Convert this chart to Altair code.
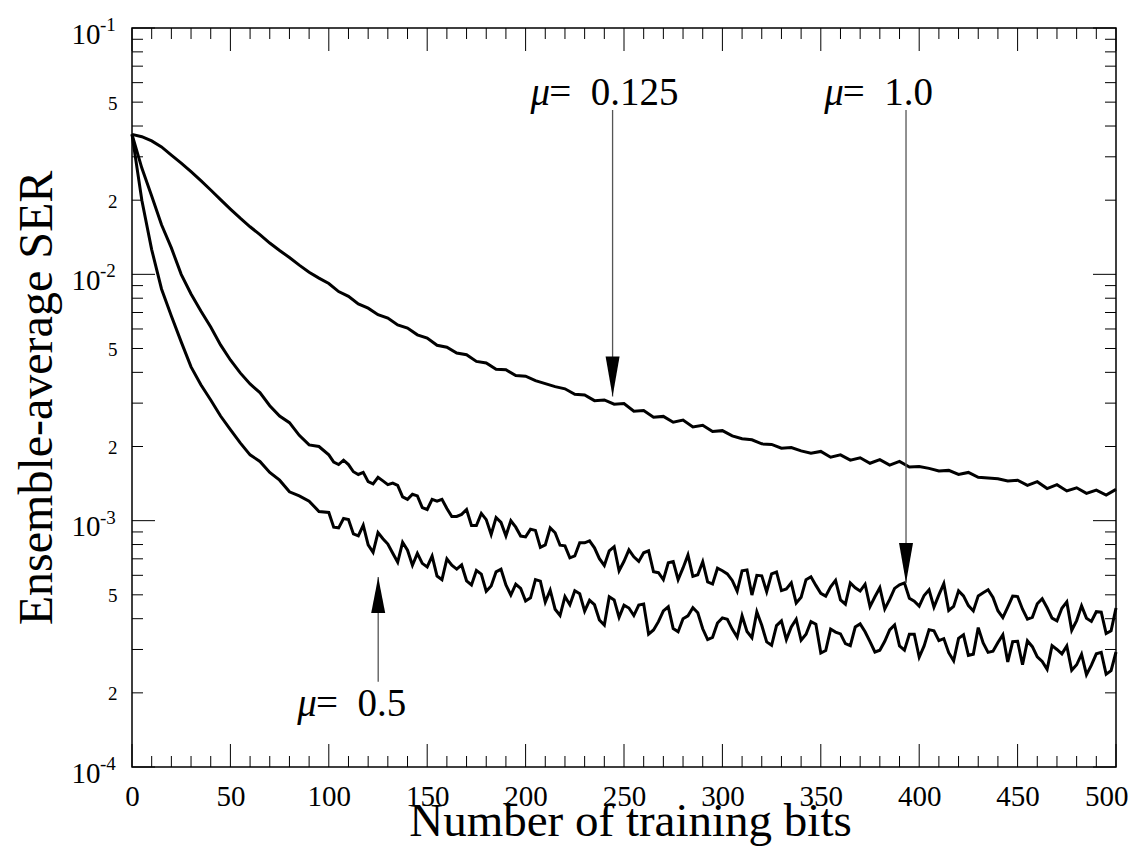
import altair as alt
import pandas as pd

# ---------------- data ----------------
bits = list(range(0, 501, 5))             # 0, 5, ..., 500
bits_half = [102.5 + 5 * i for i in range(80)]  # 102.5, 107.5, ..., 497.5

ser_mu_0125 = [
    0.0370, 0.0362, 0.0348, 0.0329, 0.0305, 0.0283, 0.0261, 0.0240, 0.0220, 0.0201,
    0.0184, 0.0169, 0.0156, 0.0145, 0.0134, 0.0125, 0.0117, 0.0109, 0.0102, 0.00965,
    0.00918, 0.00851, 0.00814, 0.00758, 0.00729, 0.00686, 0.00664, 0.00623, 0.00605, 0.00568,
    0.00551, 0.00515, 0.00506, 0.00479, 0.00472, 0.00443, 0.00437, 0.00412, 0.00410, 0.00388,
    0.00386, 0.00370, 0.00360, 0.00350, 0.00343, 0.00326, 0.00324, 0.00307, 0.00309, 0.00297,
    0.00299, 0.00278, 0.00280, 0.00263, 0.00265, 0.00251, 0.00256, 0.00240, 0.00244, 0.00230,
    0.00232, 0.00221, 0.00215, 0.00213, 0.00205, 0.00204, 0.00197, 0.00198, 0.00192, 0.00188,
    0.00191, 0.00181, 0.00185, 0.00176, 0.00180, 0.00171, 0.00177, 0.00168, 0.00174, 0.00165,
    0.00166, 0.00163, 0.00159, 0.00160, 0.00154, 0.00157, 0.00150, 0.00149, 0.00148, 0.00145,
    0.00146, 0.00139, 0.00144, 0.00135, 0.00140, 0.00132, 0.00136, 0.00129, 0.00133, 0.00127,
    0.00134,
]

ser_mu_1 = [
    0.0370, 0.0270, 0.0208, 0.0159, 0.0128, 0.0100, 0.00832, 0.00710, 0.00611, 0.00517,
    0.00449, 0.00398, 0.00359, 0.00331, 0.00293, 0.00266, 0.00250, 0.00222, 0.00203, 0.00200,
    0.00185, 0.00169, 0.00169, 0.00154, 0.00144, 0.00150, 0.00140, 0.00139, 0.00122, 0.00126,
    0.00111, 0.00120, 0.00112, 0.00104, 0.00111, 0.000955, 0.00101, 0.00103, 0.000868, 0.000941,
    0.000859, 0.000913, 0.000797, 0.000893, 0.000790, 0.000719, 0.000813, 0.000776, 0.000658, 0.000784,
    0.000684, 0.000713, 0.000741, 0.000620, 0.000576, 0.000682, 0.000643, 0.000594, 0.000681, 0.000553,
    0.000626, 0.000572, 0.000626, 0.000499, 0.000597, 0.000608, 0.000520, 0.000559, 0.000489, 0.000592,
    0.000507, 0.000539, 0.000477, 0.000559, 0.000518, 0.000448, 0.000534, 0.000479, 0.000549, 0.000484,
    0.000450, 0.000524, 0.000500, 0.000432, 0.000519, 0.000452, 0.000495, 0.000524, 0.000431, 0.000446,
    0.000492, 0.000398, 0.000460, 0.000443, 0.000392, 0.000468, 0.000393, 0.000402, 0.000427, 0.000348,
    0.000442,
]
ser_mu_1_half = [
    0.00173, 0.00176, 0.00158, 0.00157, 0.00141, 0.00145, 0.00142, 0.00125, 0.00128, 0.00113,
    0.00122, 0.00122, 0.00104, 0.00106, 0.000956, 0.00107, 0.000879, 0.000984, 0.000999, 0.000866,
    0.000923, 0.000779, 0.000935, 0.000795, 0.000706, 0.000813, 0.000828, 0.000701, 0.000754, 0.000626,
    0.000761, 0.000683, 0.000754, 0.000615, 0.000675, 0.000576, 0.000726, 0.000603, 0.000564, 0.000641,
    0.000608, 0.000517, 0.000631, 0.000600, 0.000515, 0.000619, 0.000528, 0.000463, 0.000576, 0.000546,
    0.000494, 0.000572, 0.000458, 0.000534, 0.000552, 0.000491, 0.000438, 0.000531, 0.000559, 0.000471,
    0.000497, 0.000446, 0.000555, 0.000449, 0.000495, 0.000430, 0.000510, 0.000488, 0.000404, 0.000494,
    0.000437, 0.000405, 0.000482, 0.000402, 0.000441, 0.000359, 0.000451, 0.000390, 0.000425, 0.000357,
]

ser_mu_05 = [
    0.0370, 0.0200, 0.0126, 0.00872, 0.00678, 0.00532, 0.00421, 0.00356, 0.00309, 0.00266,
    0.00234, 0.00207, 0.00185, 0.00174, 0.00157, 0.00146, 0.00131, 0.00126, 0.00120, 0.00109,
    0.00108, 0.000935, 0.00101, 0.000867, 0.000797, 0.000895, 0.000804, 0.000678, 0.000759, 0.000737,
    0.000649, 0.000596, 0.000700, 0.000636, 0.000570, 0.000628, 0.000517, 0.000620, 0.000548, 0.000552,
    0.000472, 0.000576, 0.000467, 0.000437, 0.000492, 0.000519, 0.000429, 0.000456, 0.000377, 0.000477,
    0.000454, 0.000412, 0.000459, 0.000360, 0.000430, 0.000365, 0.000400, 0.000443, 0.000364, 0.000336,
    0.000403, 0.000363, 0.000411, 0.000335, 0.000376, 0.000312, 0.000392, 0.000370, 0.000327, 0.000389,
    0.000290, 0.000363, 0.000347, 0.000311, 0.000381, 0.000323, 0.000298, 0.000360, 0.000310, 0.000346,
    0.000279, 0.000361, 0.000326, 0.000291, 0.000333, 0.000284, 0.000368, 0.000292, 0.000320, 0.000267,
    0.000324, 0.000325, 0.000280, 0.000249, 0.000300, 0.000310, 0.000260, 0.000237, 0.000288, 0.000238,
    0.000293,
]
ser_mu_05_half = [
    0.000941, 0.00102, 0.000883, 0.000958, 0.000744, 0.000845, 0.000737, 0.000817, 0.000659, 0.000671,
    0.000718, 0.000576, 0.000659, 0.000661, 0.000548, 0.000607, 0.000543, 0.000635, 0.000499, 0.000531,
    0.000486, 0.000568, 0.000522, 0.000412, 0.000456, 0.000505, 0.000475, 0.000395, 0.000491, 0.000405,
    0.000442, 0.000454, 0.000346, 0.000389, 0.000447, 0.000354, 0.000411, 0.000423, 0.000329, 0.000384,
    0.000398, 0.000337, 0.000355, 0.000426, 0.000322, 0.000375, 0.000329, 0.000398, 0.000346, 0.000380,
    0.000297, 0.000353, 0.000317, 0.000370, 0.000354, 0.000293, 0.000324, 0.000377, 0.000298, 0.000346,
    0.000310, 0.000357, 0.000332, 0.000270, 0.000344, 0.000287, 0.000319, 0.000295, 0.000344, 0.000323,
    0.000260, 0.000308, 0.000268, 0.000311, 0.000288, 0.000247, 0.000287, 0.000259, 0.000292, 0.000246,
]

x_major = [0, 50, 100, 150, 200, 250, 300, 350, 400, 450, 500]
x_minor = [10, 20, 30, 40, 60, 70, 80, 90, 110, 120, 130, 140, 160, 170, 180, 190,
           210, 220, 230, 240, 260, 270, 280, 290, 310, 320, 330, 340, 360, 370, 380, 390,
           410, 420, 430, 440, 460, 470, 480, 490]
y_major = [0.0001, 0.001, 0.01, 0.1]
y_exponents = ["-4", "-3", "-2", "-1"]
y_minor = [0.0002, 0.0003, 0.0004, 0.0005, 0.0006, 0.0007, 0.0008, 0.0009,
           0.002, 0.003, 0.004, 0.005, 0.006, 0.007, 0.008, 0.009,
           0.02, 0.03, 0.04, 0.05, 0.06, 0.07, 0.08, 0.09]
y_label_vals = [0.0001, 0.0002, 0.0005, 0.001, 0.002, 0.005, 0.01, 0.02, 0.05, 0.1]

ann_symbol = ["\u03bc", "\u03bc", "\u03bc"]
ann_mu_bits = [202.5, 351.8, 84.0]
ann_eq_bits = [212.0, 361.2, 93.5]
ann_y = [0.0488, 0.0488, 0.000161]
ann_text = ["=\u20020.125", "=\u20021.0", "=\u20020.5"]

arrow_bits = [244.2, 393.3, 125.1]
arrow_from = [0.0465, 0.0465, 0.000222]
arrow_tip = [0.00319, 0.000559, 0.000591]
arrow_dir = ["down", "down", "up"]

# ---------------- tables ----------------
df = pd.concat([
    pd.DataFrame({"bits": bits, "ser": ser_mu_0125, "mu": "0.125"}),
    pd.DataFrame({"bits": bits, "ser": ser_mu_1, "mu": "1.0"}),
    pd.DataFrame({"bits": bits_half, "ser": ser_mu_1_half, "mu": "1.0"}),
    pd.DataFrame({"bits": bits, "ser": ser_mu_05, "mu": "0.5"}),
    pd.DataFrame({"bits": bits_half, "ser": ser_mu_05_half, "mu": "0.5"}),
]).sort_values(["mu", "bits"]).reset_index(drop=True)
ann = pd.DataFrame({"sym": ann_symbol, "xm": ann_mu_bits, "xe": ann_eq_bits,
                    "y": ann_y, "t": ann_text})
arrows = pd.DataFrame({"x": arrow_bits, "y0": arrow_from, "y1": arrow_tip, "d": arrow_dir})

W, H = 984, 739
FONT = "Liberation Serif"
xs = alt.Scale(domain=[0, 500], nice=False, zero=False)
ys = alt.Scale(type="log", domain=[0.0001, 0.1], nice=False)

DECADE = "abs(log(datum.value)/LN10 - round(log(datum.value)/LN10)) < 1e-6"
LAST = "datum.value >= 500"

x_axis = alt.Axis(values=x_major, ticks=False, domain=False, grid=False,
                  labelFont=FONT, labelFontSize=29, labelColor="black",
                  labelPadding=15, labelFlush=False, labelOverlap=False,
                  labelAlign={"condition": {"test": LAST, "value": "right"}, "value": "center"},
                  labelOffset={"condition": {"test": LAST, "value": 12}, "value": 0},
                  title="Number of training bits", titleFont=FONT, titleFontSize=47,
                  titleFontWeight="normal", titleColor="black",
                  titleBaseline="alphabetic", titleY=68, titleX=498)
y_axis = alt.Axis(values=y_label_vals, ticks=False, domain=False, grid=False,
                  labelFont=FONT, labelColor="black", labelOverlap=False,
                  labelExpr=DECADE + " ? '10' : format(datum.value / pow(10, floor(log(datum.value)/LN10 + 1e-9)), '.0f')",
                  labelFontSize={"condition": {"test": DECADE, "value": 29}, "value": 19},
                  labelPadding={"condition": {"test": DECADE, "value": 32}, "value": 15},
                  labelOffset={"condition": {"test": DECADE, "value": 6}, "value": 1},
                  labelBaseline="middle",
                  title="Ensemble-average SER", titleFont=FONT, titleFontSize=48,
                  titleFontWeight="normal", titleColor="black", titleAngle=270,
                  titleBaseline="alphabetic", titleX=-81, titleY=H / 2)


def X(field):
    return alt.X(field, scale=xs, axis=x_axis)


def Y(field):
    return alt.Y(field, scale=ys, axis=y_axis)


lines = alt.Chart(df).mark_line(color="black", strokeWidth=3).encode(
    x=X("bits:Q"), y=Y("ser:Q"), detail="mu:N", order="bits:Q",
)

TICK = dict(color="black", strokeWidth=1)


def xticks(vals, length):
    d = pd.DataFrame({"v": vals})
    b = alt.Chart(d).mark_rule(**TICK).encode(
        x=X("v:Q"), y=alt.value(H), y2=alt.value(H - length))
    t = alt.Chart(d).mark_rule(**TICK).encode(
        x=X("v:Q"), y=alt.value(0), y2=alt.value(length))
    return [b, t]


def yticks(vals, length):
    d = pd.DataFrame({"v": vals})
    l = alt.Chart(d).mark_rule(**TICK).encode(
        y=Y("v:Q"), x=alt.value(0), x2=alt.value(length))
    r = alt.Chart(d).mark_rule(**TICK).encode(
        y=Y("v:Q"), x=alt.value(W), x2=alt.value(W - length))
    return [l, r]


tick_layers = xticks(x_major, 23) + xticks(x_minor, 11) + yticks(y_major, 23) + yticks(y_minor, 11)

exponents = alt.Chart(pd.DataFrame({"v": y_major, "e": y_exponents})).mark_text(
    font=FONT, fontSize=19, align="left", baseline="alphabetic", color="black", dy=3
).encode(y=Y("v:Q"), x=alt.value(-32), text="e:N")

arrow_lines = alt.Chart(arrows).mark_rule(color="#555555", strokeWidth=1.3).encode(
    x=X("x:Q"), y=Y("y0:Q"), y2="y1:Q")

head_down = alt.Chart(arrows).transform_filter("datum.d == 'down'").mark_point(
    shape="M-0.35,-2L0.35,-2L0,0Z", size=1600, filled=True, color="black", opacity=1
).encode(x=X("x:Q"), y=Y("y1:Q"))

head_up = alt.Chart(arrows).transform_filter("datum.d == 'up'").mark_point(
    shape="M-0.35,1.8L0.35,1.8L0,0Z", size=1600, filled=True, color="black", opacity=1
).encode(x=X("x:Q"), y=Y("y1:Q"))

mu_text = alt.Chart(ann).mark_text(
    font=FONT, fontSize=39, fontStyle="italic", align="left", baseline="alphabetic", color="black"
).encode(x=X("xm:Q"), y=Y("y:Q"), text="sym:N")

eq_text = alt.Chart(ann).mark_text(
    font=FONT, fontSize=39, align="left", baseline="alphabetic", color="black"
).encode(x=X("xe:Q"), y=Y("y:Q"), text="t:N")

chart = alt.layer(
    lines, *tick_layers, exponents, arrow_lines, head_down, head_up, mu_text, eq_text
).properties(
    width=W, height=H,
    autosize=alt.AutoSizeParams(type="none"),
    padding={"left": 124, "top": 20, "right": 13, "bottom": 80},
    background="white",
).configure_view(stroke="black", strokeWidth=1.5)

chart.save("out.html", embed_options={"renderer": "svg", "actions": False})
